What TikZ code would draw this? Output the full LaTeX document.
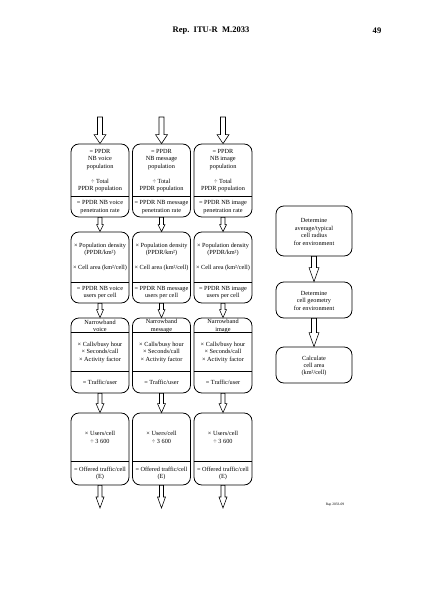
\documentclass[tikz,border=0pt]{standalone}
\usepackage{fontspec}
\setmainfont{Liberation Serif}
\newlength\pxu \setlength\pxu{1.4073pt}
\tikzset{
 boxst/.style={draw, line width=1.1pt, rounded corners=11pt, inner sep=0pt},
 divline/.style={line width=1.1pt},
 txt/.style={align=center, font=\fontsize{8.8}{10.5}\selectfont, inner sep=0pt},
 blockarrow/.style={draw, line width=0.8pt, fill=white, line join=miter},
}
% start, end, shaft half width, head half width, head length
\newcommand\harr[5]{%
 \draw[blockarrow] ([xshift=-#3\pxu]#1) -- ([xshift=-#3\pxu,yshift=#5\pxu]#2) -- ([xshift=-#4\pxu,yshift=#5\pxu]#2) -- (#2) -- ([xshift=#4\pxu,yshift=#5\pxu]#2) -- ([xshift=#3\pxu,yshift=#5\pxu]#2) -- ([xshift=#3\pxu]#1) -- cycle;}
% name, x, width, center y, height
\newcommand\mkbox[5]{\node[boxst, minimum width=#3\pxu, minimum height=#5\pxu] (#1) at (#2,#4) {};}
\newcommand\divat[2]{\draw[divline] ([yshift=-#2\pxu]#1.north west) -- ([yshift=-#2\pxu]#1.north east);}
\begin{document}
\begin{tikzpicture}[x=1.4073pt,y=-1.4073pt]
\useasboundingbox (0,0) rectangle (423,598);
\fill[white] (0,0) rectangle (423,598);
\node[font=\fontsize{12}{14}\selectfont\bfseries, inner sep=0pt] (hdr) at (211,31) {Rep.\ \ ITU-R\ \ M.2033};
\node[font=\fontsize{12}{14}\selectfont\bfseries, inner sep=0pt] (pg) at (377,31) {49};
\node[font=\fontsize{5}{6}\selectfont, inner sep=0pt] (ref) at (335,505) {Rap 2033-09};

% columns
\foreach \c/\x/\kind in {1/100/voice, 2/161.5/message, 3/223/image}{
 \mkbox{a\c}{\x}{58}{180.5}{73}
 \mkbox{b\c}{\x}{58}{267.5}{71}
 \mkbox{c\c}{\x}{58}{355.5}{75}
 \mkbox{d\c}{\x}{58}{449}{72}
 \divat{a\c}{53}
 \divat{b\c}{51}
 \divat{c\c}{15}
 \divat{c\c}{54}
 \divat{d\c}{49}
 \node[txt] (ta\c) at (\x,170.5) {= PPDR\\NB \kind\\population\\[10.5pt]÷ Total\\PPDR population};
 \node[txt] (tb\c) at (\x,207) {= PPDR NB \kind\\penetration rate};
 \node[txt] (tc\c) at (\x,257) {× Population density\\(PPDR/km²)\\[10.5pt]× Cell area (km²/cell)};
 \node[txt] (td\c) at (\x,292.5) {= PPDR NB \kind\\users per cell};
 \node[txt] (te\c) at (\x,326) {Narrowband\\\kind};
 \node[txt] (tf\c) at (\x,352.5) {× Calls/busy hour\\× Seconds/call\\× Activity factor};
 \node[txt] (tg\c) at (\x,382.5) {= Traffic/user};
 \node[txt] (th\c) at (\x,437.5) {× Users/cell\\÷ 3 600};
 \node[txt] (ti\c) at (\x,473.5) {= Offered traffic/cell\\(E)};
 \coordinate (in\c) at (\x,117);
 \coordinate (out\c) at (\x,508);
 \harr{in\c}{a\c.north}{2.5}{6}{9}
 \harr{a\c.south}{b\c.north}{2}{3.5}{7}
 \harr{b\c.south}{c\c.north}{2}{3.5}{8}
 \harr{c\c.south}{d\c.north}{2}{4}{9}
 \harr{d\c.south}{out\c}{2}{4}{11}
}

% right column
\mkbox{r1}{314}{76}{231}{50}
\mkbox{r2}{314}{76}{300}{36}
\mkbox{r3}{314}{76}{365}{36}
\node[txt] (tr1) at (314,232) {Determine\\average/typical\\cell radius\\for environment};
\node[txt] (tr2) at (314,300.5) {Determine\\cell geometry\\for environment};
\node[txt] (tr3) at (314,366) {Calculate\\cell area\\(km²/cell)};
\harr{r1.south}{r2.north}{2.5}{5}{14}
\harr{r2.south}{r3.north}{2.5}{5}{14}
\end{tikzpicture}
\end{document}
